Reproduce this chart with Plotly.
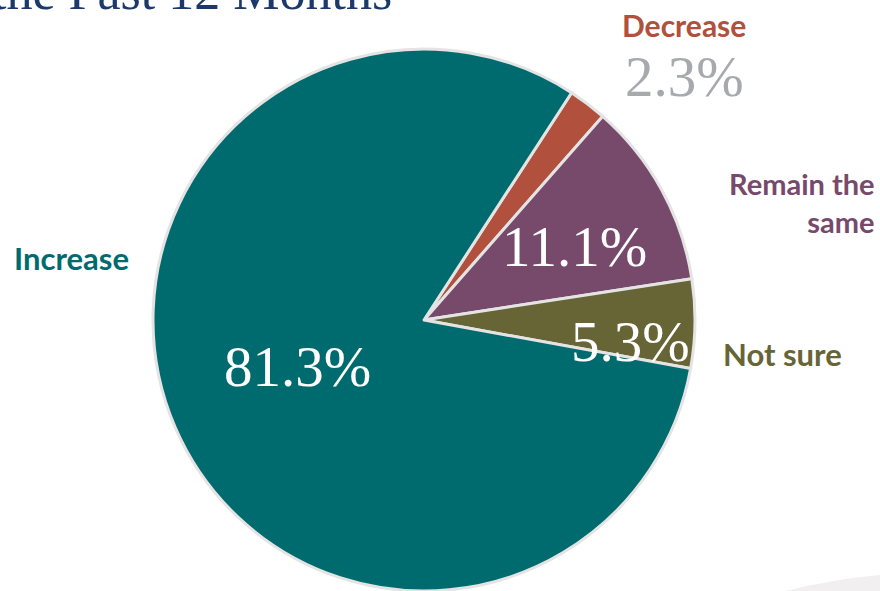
import plotly.graph_objects as go

# Survey responses: expected change over the past 12 months
categories = ["Decrease", "Remain the same", "Not sure", "Increase"]
label_text = ["Decrease", "Remain the<br>same", "Not sure", "Increase"]
values = [2.3, 11.1, 5.3, 81.3]
colors = ["#B0503D", "#77496B", "#676535", "#006B6E"]

W, H = 880, 591

fig = go.Figure()
fig.add_trace(go.Pie(
    labels=categories,
    values=values,
    sort=False,
    direction="clockwise",
    rotation=33,
    marker=dict(colors=colors, line=dict(color="#E4E4E4", width=3)),
    textinfo="none",
    hoverinfo="label+percent",
    showlegend=False,
    domain=dict(x=[153 / W, 695 / W], y=[0, 1 - 49 / H]),
))


def px(x, y):
    return x / W, 1 - y / H


serif = "Liberation Serif"
sans = "Lato"
annotations = []

# percentage labels (x, y, colour)
pct_pos = {
    "Increase": (297, 366, "white"),
    "Remain the same": (574, 246, "white"),
    "Not sure": (630, 341, "white"),
    "Decrease": (684, 77, "#A7A9AC"),
}
for cat, val in zip(categories, values):
    x, y, c = pct_pos[cat]
    ax, ay = px(x, y)
    annotations.append(dict(
        x=ax, y=ay, xref="paper", yref="paper", text=f"{val}%",
        showarrow=False, xanchor="center", yanchor="middle",
        font=dict(family=serif, size=57, color=c),
    ))

# category labels
cat_pos = {
    "Increase": (12, 258, "left", 31),
    "Decrease": (684, 25, "center", 30),
    "Remain the same": (877, 202, "right", 29),
    "Not sure": (721, 354, "left", 31),
}
for cat, txt, col in zip(categories, label_text, colors):
    x, y, anc, size = cat_pos[cat]
    ax, ay = px(x, y)
    annotations.append(dict(
        x=ax, y=ay, xref="paper", yref="paper", text=f"<b>{txt}</b>",
        showarrow=False, xanchor=anc, yanchor="middle", align=anc,
        font=dict(family=sans, size=size, color=col),
    ))

# chart title (runs off the top edge)
tx, ty = px(394, 22)
annotations.append(dict(
    x=tx, y=ty, xref="paper", yref="paper",
    text="the Past 12 Months",
    showarrow=False, xanchor="right", yanchor="bottom",
    font=dict(family=serif, size=52, color="#1B3A6B"),
))

fig.update_layout(
    width=W, height=H,
    margin=dict(l=0, r=0, t=0, b=0),
    paper_bgcolor="white",
    plot_bgcolor="white",
    annotations=annotations,
    shapes=[dict(
        type="path", xref="paper", yref="paper",
        path=f"M {785/W} 0 Q {835/W} {12/H} {880/W} {16/H} L 1 0 Z",
        fillcolor="#F1EFEF", line=dict(width=0), layer="below",
    )],
)

fig.write_html("out.html")
